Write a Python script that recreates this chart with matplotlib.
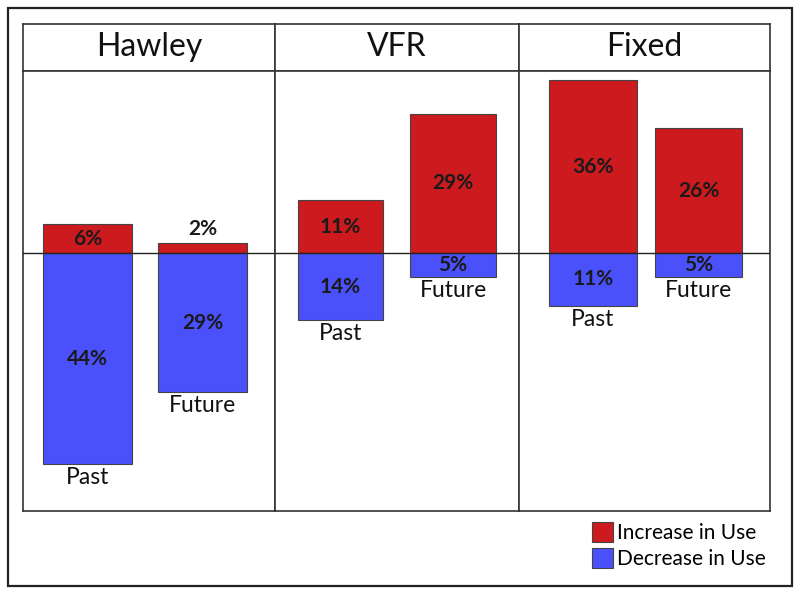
import matplotlib.pyplot as plt
from matplotlib.patches import Rectangle, Patch

plt.rcParams['font.family'] = ['Lato', 'DejaVu Sans']

groups = ['Hawley', 'VFR', 'Fixed']
periods = ['Past', 'Future']
increase = [[6, 2], [11, 29], [36, 26]]
decrease = [[44, 29], [14, 5], [11, 5]]

RED = '#cc1a1e'
BLUE = '#4a50fa'
EDGE = '#444444'

# layout (pixels of the 800x595 picture)
panel_w = [252, 244, 251]
centers = [[0.256, 0.712], [0.268, 0.730], [0.295, 0.715]]
bar_w = 0.35

fig = plt.figure(figsize=(8, 5.95), dpi=100)
gs = fig.add_gridspec(2, 3, left=23/800, right=770/800, top=1-24/595,
                      bottom=1-511/595, height_ratios=[47, 440],
                      width_ratios=panel_w, hspace=0, wspace=0)

for i, name in enumerate(groups):
    hax = fig.add_subplot(gs[0, i])
    hax.set_xticks([])
    hax.set_yticks([])
    hax.text(0.5, 0.5, name, ha='center', va='center', fontsize=23,
             transform=hax.transAxes, color='#111111')
    for s in hax.spines.values():
        s.set_color('#333333')
        s.set_linewidth(1.2)

    ax = fig.add_subplot(gs[1, i])
    ax.set_xlim(0, 1)
    ax.set_ylim(-53.75, 37.9)
    ax.set_xticks([])
    ax.set_yticks([])
    for s in ax.spines.values():
        s.set_color('#333333')
        s.set_linewidth(1.2)
    ax.axhline(0, color='#222222', lw=1.0, zorder=3)

    x = centers[i]
    up = increase[i]
    down = decrease[i]
    ax.bar(x, up, width=bar_w, color=RED, edgecolor=EDGE, lw=0.8, zorder=2)
    ax.bar(x, [-d for d in down], width=bar_w, color=BLUE, edgecolor=EDGE,
           lw=0.8, zorder=2)
    for xi, u, d, p in zip(x, up, down, periods):
        if u < 4:
            ax.text(xi, u + 1.0, f'{u}%', ha='center', va='bottom',
                    fontsize=15, fontweight='bold', color='#1a1a1a')
        else:
            ax.text(xi, u / 2, f'{u}%', ha='center', va='center',
                    fontsize=15, fontweight='bold', color='#1a1a1a')
        ax.text(xi, -d / 2, f'{d}%', ha='center', va='center',
                fontsize=15, fontweight='bold', color='#1a1a1a')
        ax.text(xi, -d - 0.6, p, ha='center', va='top', fontsize=16.5,
                color='#111111')

fig.patches.append(Rectangle((8/800, 9/595), 784/800, 578/595,
                             transform=fig.transFigure, fill=False,
                             edgecolor='#222222', lw=1.6))

handles = [Patch(facecolor=RED, edgecolor=EDGE, lw=0.8),
           Patch(facecolor=BLUE, edgecolor=EDGE, lw=0.8)]
fig.legend(handles, ['Increase in Use', 'Decrease in Use'],
           loc='lower right', bbox_to_anchor=(776/800, 16/595),
           frameon=False, fontsize=15, handlelength=1.0, handleheight=1.1,
           handletextpad=0.2, labelspacing=0.2, borderpad=0)

fig.savefig('out.png', dpi=100, facecolor='white')
